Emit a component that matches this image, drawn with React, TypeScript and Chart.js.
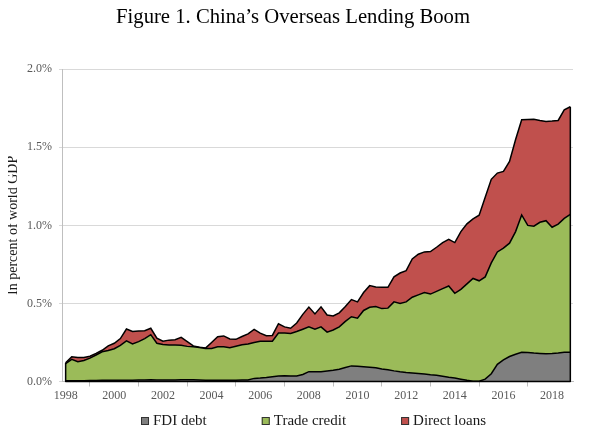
import React, { useEffect, useRef } from "react";
import { Chart, registerables } from "chart.js";

Chart.register(...registerables);

// ---- data (percent of world GDP, quarterly) ----
const years = [1998, 1999, 2000, 2001, 2002, 2003, 2004, 2005, 2006, 2007, 2008, 2009, 2010, 2011, 2012, 2013, 2014, 2015, 2016, 2017, 2018];
const quarterDates = years.flatMap((y) => [y, y + 0.25, y + 0.5, y + 0.75]);
const yearTicks = [1998, 2000, 2002, 2004, 2006, 2008, 2010, 2012, 2014, 2016, 2018];

const fdiDebt = [
  0.005, 0.005, 0.005, 0.005,
  0.006, 0.007, 0.008, 0.008,
  0.008, 0.008, 0.008, 0.008,
  0.009, 0.010, 0.012, 0.010,
  0.009, 0.009, 0.010, 0.012,
  0.012, 0.012, 0.010, 0.008,
  0.008, 0.008, 0.008, 0.008,
  0.008, 0.009, 0.010, 0.020,
  0.022, 0.025, 0.030, 0.035,
  0.037, 0.035, 0.035, 0.045,
  0.063, 0.063, 0.063, 0.068,
  0.072, 0.078, 0.090, 0.100,
  0.098, 0.095, 0.092, 0.088,
  0.080, 0.075, 0.068, 0.062,
  0.058, 0.055, 0.052, 0.048,
  0.043, 0.040, 0.034, 0.027,
  0.022, 0.015, 0.008, 0.002,
  0.002, 0.015, 0.050, 0.110,
  0.138, 0.160, 0.175, 0.187,
  0.185, 0.182, 0.180, 0.178,
  0.180, 0.183, 0.187, 0.187,
];

const tradeCredit = [
  0.110, 0.137, 0.122, 0.130,
  0.144, 0.163, 0.182, 0.190,
  0.202, 0.224, 0.252, 0.232,
  0.246, 0.265, 0.288, 0.235,
  0.228, 0.225, 0.224, 0.220,
  0.213, 0.210, 0.208, 0.204,
  0.204, 0.214, 0.214, 0.209,
  0.218, 0.226, 0.230, 0.230,
  0.236, 0.233, 0.228, 0.275,
  0.273, 0.273, 0.285, 0.290,
  0.287, 0.272, 0.287, 0.248,
  0.258, 0.272, 0.295, 0.315,
  0.307, 0.360, 0.383, 0.392,
  0.387, 0.395, 0.442, 0.438,
  0.452, 0.485, 0.503, 0.522,
  0.517, 0.537, 0.561, 0.585,
  0.543, 0.575, 0.617, 0.658,
  0.643, 0.655, 0.710, 0.720,
  0.716, 0.726, 0.785, 0.880,
  0.815, 0.813, 0.840, 0.852,
  0.808, 0.825, 0.858, 0.883,
];

const directLoans = [
  0.005, 0.017, 0.026, 0.019,
  0.012, 0.010, 0.010, 0.030,
  0.035, 0.043, 0.076, 0.080,
  0.068, 0.050, 0.041, 0.032,
  0.021, 0.031, 0.034, 0.051,
  0.030, 0.006, 0.002, 0.002,
  0.038, 0.065, 0.070, 0.055,
  0.044, 0.053, 0.065, 0.084,
  0.052, 0.035, 0.037, 0.060,
  0.040, 0.033, 0.055, 0.095,
  0.127, 0.098, 0.128, 0.110,
  0.090, 0.090, 0.095, 0.110,
  0.105, 0.115, 0.139, 0.125,
  0.136, 0.133, 0.160, 0.195,
  0.200, 0.245, 0.260, 0.260,
  0.272, 0.283, 0.295, 0.298,
  0.325, 0.370, 0.385, 0.382,
  0.420, 0.510, 0.535, 0.505,
  0.492, 0.524, 0.590, 0.609,
  0.678, 0.685, 0.652, 0.635,
  0.680, 0.664, 0.695, 0.690,
];

const seriesNames = ["FDI debt", "Trade credit", "Direct loans"];
const seriesColors = ["#7f7f7f", "#9bbb59", "#c0504d"];
const chartTitle = "Figure 1. China\u2019s Overseas Lending Boom";
const yAxisTitle = "In percent of world GDP";

const SERIF = "'Liberation Serif', 'Times New Roman', Times, serif";

// black outline at the two ends and along the base of the stacked area
const areaEdges = {
  id: "areaEdges",
  afterDatasetsDraw(chart: any) {
    const n = chart.data.datasets.length;
    const topPts = chart.getDatasetMeta(n - 1).data;
    if (!topPts.length) return;
    const y0 = chart.scales.y.getPixelForValue(0);
    const first = topPts[0];
    const last = topPts[topPts.length - 1];
    const ctx = chart.ctx;
    ctx.save();
    ctx.strokeStyle = "#000";
    ctx.lineWidth = 1.5;
    ctx.lineJoin = "round";
    ctx.beginPath();
    ctx.moveTo(first.x, first.y);
    ctx.lineTo(first.x, y0);
    ctx.lineTo(last.x, y0);
    ctx.lineTo(last.x, last.y);
    ctx.stroke();
    ctx.restore();
  },
};

// legend drawn below the axis labels
const bottomLegend = {
  id: "bottomLegend",
  afterDraw(chart: any) {
    const ctx = chart.ctx;
    const ca = chart.chartArea;
    ctx.save();
    ctx.font = `15px ${SERIF}`;
    const box = 8;
    const gap = 4;
    const spacing = 55;
    const items = chart.data.datasets.map((ds: any) => ({
      label: ds.label,
      color: ds.backgroundColor,
      w: ctx.measureText(ds.label).width,
    }));
    const total =
      items.reduce((s: number, it: any) => s + box + gap + it.w, 0) +
      spacing * (items.length - 1);
    let x = (ca.left + ca.right) / 2 - total / 2 - 4;
    const y = ca.bottom + 39.5;
    ctx.textBaseline = "middle";
    ctx.textAlign = "left";
    for (const it of items) {
      ctx.fillStyle = it.color;
      ctx.fillRect(x, y - box / 2, box, box);
      ctx.strokeStyle = "#333";
      ctx.lineWidth = 1;
      ctx.strokeRect(x + 0.5, y - box / 2 + 0.5, box - 1, box - 1);
      ctx.fillStyle = "#1a1a1a";
      ctx.fillText(it.label, x + box + gap, y + 0.5);
      x += box + gap + it.w + spacing;
    }
    ctx.restore();
  },
};

export default function App() {
  const canvasRef = useRef<HTMLCanvasElement | null>(null);

  useEffect(() => {
    const canvas = canvasRef.current;
    if (!canvas) return;
    const seriesData = [fdiDebt, tradeCredit, directLoans];
    const chart = new Chart(canvas, {
      type: "line",
      data: {
        datasets: seriesData.map((vals, i) => ({
          label: seriesNames[i],
          data: vals.map((v, j) => ({ x: quarterDates[j], y: v })),
          backgroundColor: seriesColors[i],
          borderColor: "#000",
          borderWidth: 1.5,
          pointRadius: 0,
          tension: 0,
          fill: i === 0 ? "origin" : "-1",
        })),
      },
      options: {
        animation: false,
        responsive: false,
        maintainAspectRatio: false,
        layout: { padding: { left: 13, right: 17, top: 0, bottom: 24.5 } },
        plugins: {
          legend: { display: false },
          tooltip: { enabled: false },
          title: {
            display: true,
            text: chartTitle,
            color: "#000",
            font: { family: SERIF, size: 20.7, weight: "normal", lineHeight: 0.8 },
            padding: { top: 1.5, bottom: 43.2 },
          },
        },
        scales: {
          x: {
            type: "linear",
            min: 1997.85,
            max: 2018.86,
            afterBuildTicks: (s: any) => {
              s.ticks = yearTicks.map((v) => ({ value: v }));
            },
            afterFit: (s: any) => {
              s.height = 20;
            },
            ticks: {
              autoSkip: false,
              maxRotation: 0,
              color: "#595959",
              padding: 2,
              font: { family: SERIF, size: 12 },
              callback: (v: any) => String(v),
            },
            grid: {
              offset: true,
              drawOnChartArea: false,
              drawTicks: true,
              tickLength: 5,
              color: "#bfbfbf",
            },
            border: { color: "#bfbfbf" },
          },
          y: {
            stacked: true,
            min: 0,
            max: 2,
            afterFit: (s: any) => {
              s.width = 49;
            },
            ticks: {
              stepSize: 0.5,
              color: "#595959",
              padding: 7,
              font: { family: SERIF, size: 12 },
              callback: (v: any) => Number(v).toFixed(1) + "%",
            },
            grid: { color: "#d9d9d9", tickLength: 3 },
            border: { color: "#bfbfbf" },
            title: {
              display: true,
              text: yAxisTitle,
              color: "#1a1a1a",
              font: { family: SERIF, size: 14, lineHeight: 1 },
              padding: { top: -6.5, bottom: 0 },
            },
          },
        },
      },
      plugins: [areaEdges, bottomLegend],
    } as any);
    return () => chart.destroy();
  }, []);

  return (
    <div style={{ width: 590, height: 418, marginLeft: -8 }}>
      <canvas ref={canvasRef} width={590} height={418} style={{ display: "block" }} />
    </div>
  );
}
